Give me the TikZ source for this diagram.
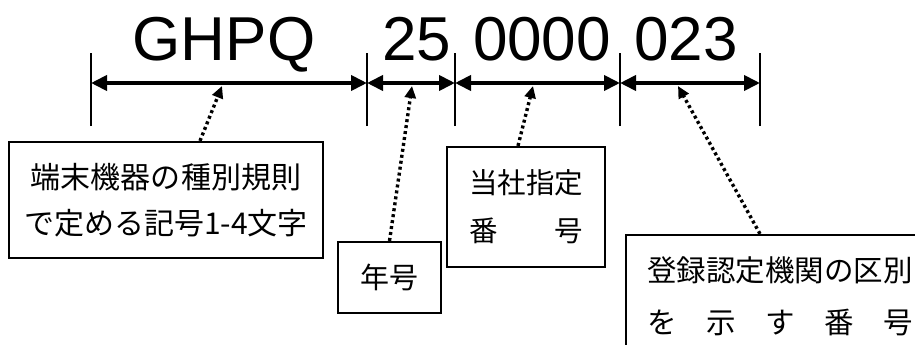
\documentclass[tikz,border=0pt]{standalone}
\usepackage{fontspec}
\setmainfont{Liberation Sans}
\newfontfamily\cjk{Noto Sans CJK JP}
\usetikzlibrary{arrows.meta}
\begin{document}
\begin{tikzpicture}[x=1pt,y=-1pt,
  dim/.style={line width=3.8pt,{Triangle[length=16pt,width=15pt]}-{Triangle[length=16pt,width=15pt]}},
  tick/.style={line width=2.4pt},
  dotarrow/.style={line width=3.4pt,dash pattern=on 3pt off 3pt,-{Triangle[length=12pt,width=11pt]}},
  codetext/.style={font=\fontsize{62}{62}\selectfont,anchor=base,inner sep=0pt},
  lbox/.style={draw,line width=2.2pt,inner sep=0pt,align=center,font=\cjk\fontsize{29}{46}\selectfont},
]
\clip (0,0) rectangle (915,345);
\fill[white] (0,0) rectangle (915,345);
% dimension points
\coordinate (t1) at (91,83);
\coordinate (t2) at (367,83);
\coordinate (t3) at (455,83);
\coordinate (t4) at (620,83);
\coordinate (t5) at (760,83);
\foreach \t in {t1,t2,t3,t4,t5}{
  \draw[tick] ([yshift=-43pt]\t.center) -- ([yshift=30pt]\t.center);
}
\draw[dim] (t1) -- (t2);
\draw[dim] (t2) -- (t3);
\draw[dim] (t3) -- (t4);
\draw[dim] (t4) -- (t5);
% code texts
\node[codetext] (c1) at (224,60) {GHPQ};
\node[codetext] (c2) at (417,60) {25};
\node[codetext] (c3) at (542,60) {0000};
\node[codetext] (c4) at (686,60) {023};
% targets
\coordinate (a1) at (222,86);
\coordinate (a2) at (412,86);
\coordinate (a3) at (533,86);
\coordinate (a4) at (678,86);
% boxes
\node[lbox,minimum width=314pt,minimum height=116pt,font=\cjk\fontsize{30}{46}\selectfont] (b1) at (166,200)
  {端末機器の種別規則\\で定める記号1-4文字};
\node[lbox,minimum width=103pt,minimum height=71pt] (b2) at (389.5,277.5) {年号};
\node[lbox,minimum width=158pt,minimum height=120pt,font=\cjk\fontsize{28.5}{48}\selectfont] (b3) at (526,207)
  {当社指定\\\makebox[114pt]{番\hfill 号}};
\node[lbox,minimum width=308pt,minimum height=122pt,font=\cjk\fontsize{29.5}{52}\selectfont] (b4) at (780,296)
  {登録認定機関の区別\\\makebox[265pt]{を\hfill 示\hfill す\hfill 番\hfill 号}};
% dotted connectors
\draw[dotarrow] ([xshift=34pt]b1.north) -- (a1);
\draw[dotarrow] (b2.north) -- (a2);
\draw[dotarrow] ([xshift=-8pt]b3.north) -- (a3);
\draw[dotarrow] ([xshift=-20pt]b4.north) -- (a4);
\end{tikzpicture}
\end{document}
